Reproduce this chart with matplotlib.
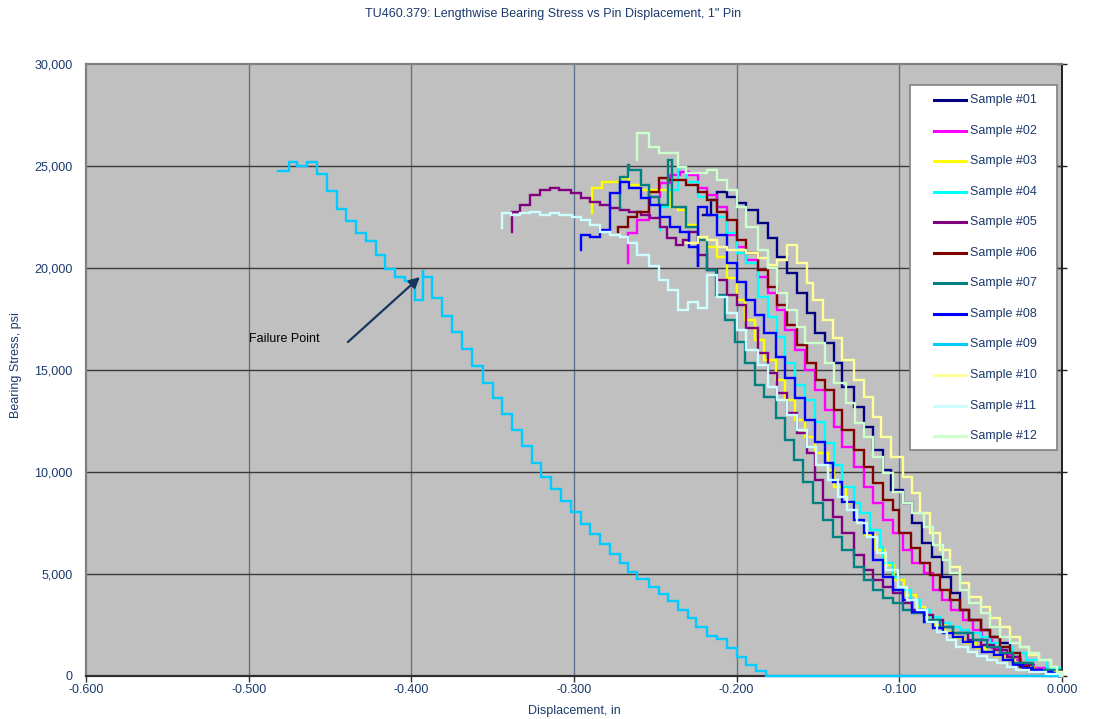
import matplotlib
matplotlib.use('Agg')
import matplotlib.pyplot as plt
from matplotlib.lines import Line2D
from matplotlib.patches import Rectangle

plt.rcParams['font.family'] = ['Liberation Sans', 'DejaVu Sans']

TITLE = 'TU460.379: Lengthwise Bearing Stress vs Pin Displacement, 1" Pin'
X_LABEL = 'Displacement, in'
Y_LABEL = 'Bearing Stress, psi'
x_ticks = [-0.6, -0.5, -0.4, -0.3, -0.2, -0.1, 0.0]
x_tick_labels = ['-0.600', '-0.500', '-0.400', '-0.300', '-0.200', '-0.100', '0.000']
y_ticks = [0, 5000, 10000, 15000, 20000, 25000, 30000]
y_tick_labels = ['0', '5,000', '10,000', '15,000', '20,000', '25,000', '30,000']

names = ['Sample #01', 'Sample #02', 'Sample #03', 'Sample #04', 'Sample #05', 'Sample #06',
         'Sample #07', 'Sample #08', 'Sample #09', 'Sample #10', 'Sample #11', 'Sample #12']
colors = ['#000080', '#FF00FF', '#FFFF00', '#00FFFF', '#800080', '#800000',
          '#008080', '#0000FF', '#00CCFF', '#FFFF99', '#CCFFFF', '#CCFFCC']

s01_x = [-0.221, -0.216, -0.212, -0.206, -0.200, -0.194, -0.187, -0.181, -0.175, -0.169,
         -0.163, -0.157, -0.152, -0.146, -0.140, -0.135, -0.128, -0.122, -0.116, -0.110,
         -0.105, -0.098, -0.092, -0.086, -0.080, -0.074, -0.068, -0.063, -0.057, -0.050,
         -0.044, -0.038, -0.032, -0.026, -0.020, -0.009, -0.001]
s01_y = [22600, 23330, 23730, 23480, 23190, 22840, 22210, 21470, 20540, 19750,
         18770, 17790, 16810, 16320, 15340, 14170, 13190, 12210, 11080, 10100,
         9120, 8480, 7500, 6520, 5830, 4850, 4070, 3240, 2750, 2250,
         1910, 1620, 930, 640, 290, 150, 0]

s02_x = [-0.267, -0.267, -0.261, -0.254, -0.247, -0.241, -0.235, -0.229, -0.224, -0.218,
         -0.212, -0.206, -0.200, -0.194, -0.187, -0.181, -0.175, -0.170, -0.164, -0.158,
         -0.152, -0.146, -0.140, -0.135, -0.128, -0.122, -0.116, -0.110, -0.104, -0.098,
         -0.092, -0.085, -0.079, -0.074, -0.068, -0.061, -0.055, -0.049, -0.043, -0.037,
         -0.031, -0.025, -0.017, -0.009, -0.001]
s02_y = [20250, 21720, 22350, 23480, 24170, 24560, 24710, 24560, 23920, 23580,
         22990, 21620, 21030, 20390, 19560, 18770, 17940, 16960, 15980, 15000,
         14020, 13040, 12210, 11230, 10250, 9260, 8480, 7650, 7010, 6180,
         5540, 5050, 4220, 3730, 3240, 2750, 2250, 1760, 1370, 1030,
         780, 540, 390, 200, 0]

s03_x = [-0.289, -0.289, -0.283, -0.272, -0.266, -0.259, -0.241, -0.236, -0.231, -0.224,
         -0.218, -0.212, -0.206, -0.200, -0.195, -0.189, -0.183, -0.176, -0.170, -0.164,
         -0.158, -0.152, -0.144, -0.140, -0.133, -0.127, -0.121, -0.115, -0.109, -0.103,
         -0.097, -0.090, -0.084, -0.078, -0.072, -0.066, -0.060, -0.053, -0.047, -0.041,
         -0.035, -0.029, -0.023, -0.017, -0.010, -0.004, 0.000]
s03_y = [22700, 23920, 24220, 24410, 24070, 23820, 22990, 22840, 22110, 21520,
         21030, 20540, 19510, 18430, 17450, 16470, 15490, 14510, 13530, 12550,
         11720, 10930, 10100, 9260, 8480, 7650, 6910, 6180, 5440, 4710,
         3970, 3380, 2890, 2500, 2160, 1860, 1620, 1370, 1180, 980,
         780, 640, 440, 290, 200, 100, 0]

s04_x = [-0.247, -0.247, -0.242, -0.236, -0.231, -0.224, -0.218, -0.212, -0.206, -0.200,
         -0.194, -0.187, -0.181, -0.175, -0.170, -0.164, -0.158, -0.152, -0.146, -0.140,
         -0.135, -0.128, -0.124, -0.118, -0.112, -0.110, -0.104, -0.100, -0.093, -0.087,
         -0.081, -0.075, -0.069, -0.063, -0.057, -0.050, -0.044, -0.038, -0.030, -0.022,
         -0.009, -0.001]
s04_y = [21860, 22990, 23820, 24950, 24220, 23480, 23330, 22500, 21720, 20740,
         20250, 18580, 17600, 16620, 15340, 14260, 13530, 12450, 11420, 10340,
         9260, 8480, 7990, 7160, 6320, 5540, 4850, 4220, 3730, 3240,
         2890, 2600, 2400, 2250, 2110, 1910, 1620, 1420, 1130, 780,
         390, 0]

s05_x = [-0.338, -0.338, -0.333, -0.327, -0.321, -0.315, -0.309, -0.302, -0.296, -0.290,
         -0.284, -0.278, -0.272, -0.266, -0.259, -0.253, -0.247, -0.243, -0.237, -0.233,
         -0.229, -0.224, -0.218, -0.212, -0.206, -0.200, -0.194, -0.187, -0.181, -0.175,
         -0.169, -0.163, -0.157, -0.152, -0.147, -0.141, -0.135, -0.128, -0.122, -0.116,
         -0.110, -0.104, -0.098, -0.092, -0.085, -0.079, -0.073, -0.067, -0.058, -0.050,
         -0.042, -0.034, -0.026, -0.018, -0.009, -0.001]
s05_y = [21770, 22750, 23090, 23580, 23820, 23920, 23820, 23680, 23430, 23240,
         23090, 22940, 22840, 22750, 22600, 22450, 22010, 21470, 21130, 21370,
         21770, 20640, 19900, 19410, 18680, 18190, 17060, 15830, 14850, 13870,
         12890, 11910, 10930, 9610, 8630, 7790, 7010, 5930, 5200, 4710,
         4360, 4070, 3580, 3240, 2990, 2750, 2400, 2110, 1760, 1520,
         1270, 930, 540, 290, 150, 0]

s06_x = [-0.273, -0.273, -0.267, -0.261, -0.254, -0.248, -0.242, -0.231, -0.224, -0.218,
         -0.212, -0.206, -0.200, -0.194, -0.187, -0.181, -0.175, -0.169, -0.163, -0.157,
         -0.151, -0.146, -0.140, -0.135, -0.128, -0.122, -0.116, -0.110, -0.104, -0.100,
         -0.093, -0.087, -0.081, -0.075, -0.069, -0.063, -0.057, -0.050, -0.044, -0.038,
         -0.032, -0.026, -0.020, -0.007]
s06_y = [21770, 22010, 22500, 22750, 23730, 24410, 24310, 24070, 23730, 23330,
         22750, 22350, 21380, 20740, 19900, 19070, 18190, 17210, 16230, 15340,
         14510, 14020, 13040, 12060, 11080, 10250, 9460, 8630, 8140, 7010,
         6270, 5540, 4950, 4220, 3730, 3240, 2750, 2250, 1910, 1420,
         1130, 440, 200, 0]

s07_x = [-0.272, -0.272, -0.267, -0.266, -0.259, -0.254, -0.248, -0.242, -0.240, -0.231,
         -0.224, -0.218, -0.213, -0.207, -0.201, -0.195, -0.189, -0.183, -0.176, -0.170,
         -0.165, -0.159, -0.153, -0.147, -0.141, -0.135, -0.128, -0.122, -0.116, -0.110,
         -0.104, -0.098, -0.092, -0.083, -0.075, -0.067, -0.055, -0.046, -0.038, -0.030,
         -0.018, -0.001]
s07_y = [22940, 24460, 25050, 24800, 24070, 23480, 23090, 25290, 22990, 22010,
         21370, 19900, 18680, 17450, 16370, 15340, 14260, 13680, 12650, 11570,
         10590, 9510, 8480, 7650, 6810, 6180, 5340, 4710, 4220, 3820,
         3580, 3240, 3090, 2750, 2400, 2110, 1760, 1420, 1130, 640,
         290, 0]

s08_x = [-0.296, -0.296, -0.290, -0.284, -0.278, -0.272, -0.266, -0.259, -0.253, -0.247,
         -0.241, -0.235, -0.229, -0.224, -0.224, -0.218, -0.212, -0.206, -0.200, -0.194,
         -0.189, -0.183, -0.176, -0.170, -0.164, -0.158, -0.152, -0.146, -0.141, -0.135,
         -0.128, -0.122, -0.116, -0.110, -0.104, -0.098, -0.092, -0.085, -0.079, -0.073,
         -0.067, -0.061, -0.055, -0.049, -0.042, -0.036, -0.030, -0.024, -0.018, -0.012,
         -0.006, -0.001]
s08_y = [20880, 21620, 21520, 21860, 23680, 24220, 23920, 23430, 23090, 22500,
         22010, 21770, 21030, 20050, 22990, 22600, 21620, 20250, 19310, 18430,
         17700, 16810, 15640, 14610, 13630, 12550, 11470, 10440, 9510, 8530,
         7650, 7010, 5690, 4850, 4220, 3730, 3140, 2650, 2350, 2110,
         1910, 1670, 1420, 1180, 1030, 780, 540, 390, 290, 200,
         150, 0]

s09_x = [-0.482, -0.475, -0.470, -0.464, -0.458, -0.452, -0.446, -0.440, -0.434, -0.428,
         -0.422, -0.416, -0.410, -0.404, -0.398, -0.393, -0.393, -0.387, -0.381, -0.375,
         -0.369, -0.363, -0.356, -0.350, -0.344, -0.338, -0.332, -0.326, -0.320, -0.314,
         -0.308, -0.302, -0.296, -0.290, -0.284, -0.278, -0.272, -0.267, -0.261, -0.254,
         -0.248, -0.242, -0.236, -0.230, -0.225, -0.218, -0.212, -0.206, -0.200, -0.194,
         -0.188, -0.182, 0.000]
s09_y = [24750, 25180, 25010, 25180, 24590, 23780, 22880, 22300, 21700, 21340,
         20640, 19950, 19570, 19380, 18430, 19900, 19570, 18520, 17650, 16880,
         16030, 15200, 14380, 13610, 12830, 12060, 11280, 10460, 9770, 9150,
         8580, 8030, 7450, 6950, 6460, 5970, 5530, 5080, 4740, 4380,
         4020, 3680, 3240, 2830, 2390, 1980, 1810, 1390, 920, 540,
         260, 0, 0]

s10_x = [-0.231, -0.224, -0.218, -0.212, -0.206, -0.194, -0.187, -0.181, -0.175, -0.169,
         -0.163, -0.157, -0.153, -0.147, -0.141, -0.135, -0.128, -0.122, -0.116, -0.111,
         -0.105, -0.098, -0.092, -0.087, -0.081, -0.075, -0.069, -0.063, -0.057, -0.050,
         -0.044, -0.038, -0.032, -0.026, -0.020, -0.014, -0.007, -0.003, 0.000]
s10_y = [21230, 21520, 21380, 21030, 20880, 20740, 20490, 20150, 20390, 21130,
         20250, 19260, 18430, 17450, 16570, 15490, 14510, 13680, 12700, 11720,
         10740, 9760, 8970, 7990, 7010, 6180, 5340, 4560, 3870, 3380,
         2840, 2400, 1910, 1420, 1030, 780, 440, 200, 0]

s11_x = [-0.344, -0.344, -0.339, -0.333, -0.327, -0.321, -0.315, -0.309, -0.301, -0.296,
         -0.290, -0.284, -0.278, -0.272, -0.267, -0.261, -0.254, -0.248, -0.242, -0.236,
         -0.230, -0.224, -0.218, -0.212, -0.206, -0.200, -0.194, -0.187, -0.181, -0.175,
         -0.169, -0.163, -0.157, -0.151, -0.144, -0.138, -0.132, -0.126, -0.120, -0.114,
         -0.108, -0.101, -0.095, -0.089, -0.083, -0.077, -0.071, -0.065, -0.058, -0.052,
         -0.046, -0.040, -0.034, -0.028, -0.020, -0.010, -0.001]
s11_y = [21960, 22700, 22600, 22700, 22750, 22600, 22700, 22600, 22500, 22350,
         22110, 21770, 21620, 21520, 21230, 20640, 20100, 19410, 18920, 17940,
         18330, 18040, 19660, 18580, 17790, 16960, 15980, 15250, 14170, 13530,
         12790, 12060, 11230, 10340, 9610, 8770, 8140, 7500, 6810, 6030,
         5200, 4360, 3730, 3240, 2650, 2160, 1760, 1420, 1180, 980,
         780, 640, 440, 290, 200, 100, 0]

s12_x = [-0.261, -0.261, -0.254, -0.248, -0.236, -0.231, -0.218, -0.212, -0.206, -0.200,
         -0.194, -0.187, -0.181, -0.175, -0.169, -0.163, -0.158, -0.146, -0.140, -0.133,
         -0.127, -0.122, -0.116, -0.110, -0.104, -0.098, -0.092, -0.085, -0.079, -0.073,
         -0.069, -0.063, -0.057, -0.050, -0.044, -0.038, -0.032, -0.026, -0.020, -0.014,
         -0.007, -0.003, 0.000]
s12_y = [25290, 26620, 25930, 25640, 24950, 24660, 24800, 24310, 23820, 22990,
         22010, 20880, 20000, 18770, 17940, 17110, 16320, 15340, 14360, 13380,
         12400, 11720, 10740, 9950, 9020, 8480, 7990, 7300, 6420, 5690,
         5050, 4220, 3580, 3090, 2400, 1910, 1620, 1420, 1130, 780,
         440, 150, 0]

series_x = [s01_x, s02_x, s03_x, s04_x, s05_x, s06_x, s07_x, s08_x, s09_x, s10_x, s11_x, s12_x]
series_y = [s01_y, s02_y, s03_y, s04_y, s05_y, s06_y, s07_y, s08_y, s09_y, s10_y, s11_y, s12_y]

annot_text = 'Failure Point'
annot_tail = (-0.439, 16370)
annot_head = (-0.3947, 19560)
annot_text_pos = (-0.5, 16520)

W, H = 1096, 719
TXT = '#1b3a6b'
fig = plt.figure(figsize=(W / 100, H / 100), dpi=100)
fig.patch.set_facecolor('white')
ax = fig.add_axes([86 / W, 1 - 676 / H, (1062 - 86) / W, (676 - 64) / H])
ax.set_facecolor('#c0c0c0')
ax.set_xlim(-0.6, 0.0)
ax.set_ylim(0, 30000)

ax.set_axisbelow(True)
for xv in x_ticks[1:-1]:
    ax.axvline(xv, color='#5d7592', lw=1.0, zorder=1)
for yv in y_ticks[1:-1]:
    ax.axhline(yv, color='#3a3a3a', lw=1.0, zorder=1)

for xs, ys, c, n in zip(series_x, series_y, colors, names):
    ax.plot(xs, ys, drawstyle='steps-post', color=c, lw=1.7, label=n, zorder=3,
            solid_joinstyle='miter', clip_on=False)

ax.set_xticks(x_ticks)
ax.set_xticklabels(x_tick_labels)
ax.set_yticks(y_ticks)
ax.set_yticklabels(y_tick_labels)
ax.tick_params(axis='x', direction='out', length=4, width=1, color='#303030',
               labelsize=9, labelcolor=TXT, pad=2)
ax.tick_params(axis='y', left=False, right=True, direction='inout', length=7, width=1,
               color='#202020', labelsize=9, labelcolor=TXT, pad=6)

for side in ['top', 'left']:
    ax.spines[side].set_color('#808080')
    ax.spines[side].set_linewidth(1.6)
ax.spines['bottom'].set_color('#303030')
ax.spines['bottom'].set_linewidth(1.6)
ax.spines['right'].set_color('#202020')
ax.spines['right'].set_linewidth(1.4)

ax.annotate('', xy=annot_head, xytext=annot_tail,
            arrowprops=dict(arrowstyle='-|>', color='#17365d', lw=1.6,
                            mutation_scale=16, shrinkA=0, shrinkB=0), zorder=5)
ax.text(annot_text_pos[0], annot_text_pos[1], annot_text, ha='left', va='center',
        fontsize=9, color='black', zorder=5)

fig.text(553 / W, 1 - 14 / H, TITLE, ha='center', va='center', fontsize=9, color=TXT)
fig.text(16 / W, 1 - 365 / H, Y_LABEL, ha='center', va='center', rotation=90,
         fontsize=9, color=TXT)
fig.text(574 / W, 1 - 717 / H, X_LABEL, ha='center', va='bottom', fontsize=9, color=TXT)

# legend drawn as a boxed list of the series
lx0, ly0, lx1, ly1 = 910, 85, 1057, 450
fig.patches.append(Rectangle((lx0 / W, 1 - ly1 / H), (lx1 - lx0) / W, (ly1 - ly0) / H,
                             transform=fig.transFigure, facecolor='white',
                             edgecolor='#808080', lw=1.2, zorder=10))
for i, (c, n) in enumerate(zip(colors, names)):
    yc = 100 + i * 30.55
    fig.lines.append(Line2D([934 / W, 966 / W], [1 - yc / H, 1 - yc / H],
                            transform=fig.transFigure, color=c, lw=2.2, zorder=11))
    fig.text(970 / W, 1 - yc / H, n, ha='left', va='center', fontsize=9,
             color=TXT, zorder=12)

fig.savefig('out.png', dpi=100, facecolor='white')
